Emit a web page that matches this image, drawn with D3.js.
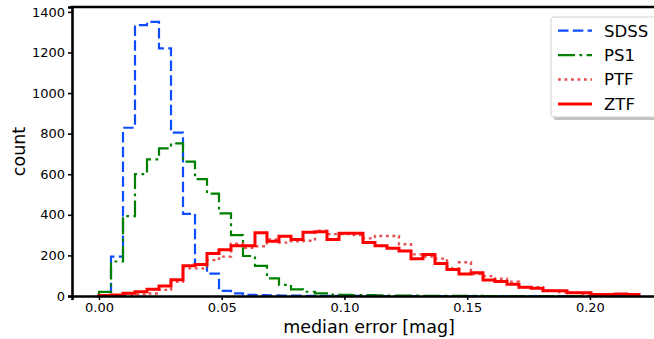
<!DOCTYPE html>
<html>
<head>
<meta charset="utf-8">
<script src="https://cdn.jsdelivr.net/npm/d3@7"></script>
<style>
  body { margin: 0; background: #fff; }
  svg { display: block; font-family: 'DejaVu Sans', sans-serif; }
</style>
</head>
<body>
<div id="root"></div>
<script>
// histogram of median photometric error per survey, 45 bins from 0 to 0.22 mag
const binMin = 0;
const binMax = 0.22;
const nBins = 45;

const sdss = [5, 194, 829, 1335, 1351, 1220, 805, 405, 153, 110,
  25, 13, 6, 4, 3, 2, 2, 1, 1, 1,
  1, 1, 0, 0, 0, 0, 0, 0, 0, 0,
  0, 0, 0, 0, 0, 0, 0, 0, 0, 0,
  0, 0, 0, 0, 0];
const ps1 = [20, 170, 394, 601, 673, 727, 752, 662, 576, 504,
  407, 300, 197, 148, 87, 55, 33, 21, 13, 7,
  6, 5, 4, 3, 2, 2, 2, 1, 1, 1,
  1, 1, 0, 0, 0, 0, 0, 0, 0, 0,
  0, 0, 0, 0, 0];
const ptf = [2, 3, 6, 8, 12, 30, 70, 136, 136, 177,
  194, 258, 238, 245, 279, 263, 270, 272, 322, 305,
  305, 300, 284, 296, 296, 255, 205, 195, 184, 136,
  166, 108, 98, 85, 71, 42, 43, 26, 20, 16,
  10, 8, 6, 5, 3];
const ztf = [2, 5, 13, 21, 33, 49, 80, 149, 155, 210,
  228, 247, 247, 312, 270, 295, 279, 314, 317, 279,
  309, 309, 263, 248, 235, 222, 184, 204, 160, 131,
  108, 115, 79, 71, 58, 43, 38, 26, 26, 16,
  16, 8, 8, 10, 7];

const xTicks = [0, 0.05, 0.1, 0.15, 0.2];
const yTicks = [0, 200, 400, 600, 800, 1000, 1200, 1400];

const series = [
  { name: 'SDSS', counts: sdss, color: '#0d4dff', width: 2.2, dash: '10.5,4.3', opacity: 1 },
  { name: 'PS1', counts: ps1, color: '#008000', width: 2.2, dash: '17,4.4,2.8,4.4', opacity: 1 },
  { name: 'PTF', counts: ptf, color: '#e02020', width: 2.4, dash: '2.8,3.7', opacity: 0.8 },
  { name: 'ZTF', counts: ztf, color: '#ff0000', width: 3, dash: null, opacity: 1 },
];

const width = 654;
const height = 339;
const margin = { top: 7, right: -12, bottom: 43, left: 72 };

const svg = d3.select('#root').append('svg')
  .attr('width', width)
  .attr('height', height);

const x = d3.scaleLinear()
  .domain([-0.011, 0.231])
  .range([margin.left, width - margin.right]);

const y = d3.scaleLinear()
  .domain([0, 1424])
  .range([height - margin.bottom, margin.top]);

const edges = d3.range(nBins + 1).map(i => binMin + i * (binMax - binMin) / nBins);

// outline of a step histogram
const stepPoints = counts => {
  const pts = [[edges[0], 0]];
  counts.forEach((c, i) => {
    pts.push([edges[i], c]);
    pts.push([edges[i + 1], c]);
  });
  pts.push([edges[nBins], 0]);
  return pts;
};

const line = d3.line()
  .x(d => x(d[0]))
  .y(d => y(d[1]));

svg.selectAll('path.hist')
  .data(series)
  .enter()
  .append('path')
  .attr('class', 'hist')
  .attr('d', d => line(stepPoints(d.counts)))
  .attr('fill', 'none')
  .attr('stroke', d => d.color)
  .attr('stroke-width', d => d.width)
  .attr('stroke-dasharray', d => d.dash)
  .attr('stroke-opacity', d => d.opacity)
  .attr('stroke-linejoin', 'miter');

// axes
const xAxis = svg.append('g')
  .attr('transform', `translate(0,${y(0)})`)
  .call(d3.axisBottom(x).tickValues(xTicks).tickFormat(d3.format('.2f')).tickSizeOuter(0).tickSize(4).tickPadding(3));

const yAxis = svg.append('g')
  .attr('transform', `translate(${x.range()[0]},0)`)
  .call(d3.axisLeft(y).tickValues(yTicks).tickFormat(d3.format('d')).tickSizeOuter(0).tickSize(4).tickPadding(3));

[xAxis, yAxis].forEach(g => {
  g.select('.domain').attr('stroke', '#000').attr('stroke-width', 2.6);
  g.selectAll('.tick line').attr('stroke', '#000').attr('stroke-width', 1.6);
  g.selectAll('.tick text')
    .attr('font-family', 'DejaVu Sans')
    .attr('font-size', 13)
    .attr('fill', '#000');
});

// top spine
svg.append('line')
  .attr('x1', x.range()[0] - 1.3)
  .attr('x2', x.range()[1])
  .attr('y1', y.range()[1])
  .attr('y2', y.range()[1])
  .attr('stroke', '#000')
  .attr('stroke-width', 2.6);

svg.append('text')
  .attr('x', (x.range()[0] + x.range()[1]) / 2)
  .attr('y', 333)
  .attr('text-anchor', 'middle')
  .attr('font-size', 17.5)
  .text('median error [mag]');

svg.append('text')
  .attr('transform', `translate(25,${(y.range()[0] + y.range()[1]) / 2}) rotate(-90)`)
  .attr('text-anchor', 'middle')
  .attr('font-size', 17.5)
  .text('count');

// legend
const legend = svg.append('g').attr('transform', 'translate(551,17)');

legend.append('rect')
  .attr('x', 2.5)
  .attr('y', 3)
  .attr('width', 120)
  .attr('height', 100)
  .attr('rx', 3)
  .attr('fill', '#888')
  .attr('fill-opacity', 0.5);

legend.append('rect')
  .attr('x', 0)
  .attr('y', 0)
  .attr('width', 120)
  .attr('height', 100)
  .attr('rx', 3)
  .attr('fill', '#fff')
  .attr('stroke', '#d0d0d0')
  .attr('stroke-width', 1);

const items = legend.selectAll('g.item')
  .data(series)
  .enter()
  .append('g')
  .attr('class', 'item')
  .attr('transform', (d, i) => `translate(0,${13.7 + i * 24.4})`);

items.append('line')
  .attr('x1', 7)
  .attr('x2', 41)
  .attr('stroke', d => d.color)
  .attr('stroke-width', d => d.width)
  .attr('stroke-dasharray', d => d.dash)
  .attr('stroke-opacity', d => d.opacity);

items.append('text')
  .attr('x', 53)
  .attr('dy', '0.36em')
  .attr('font-size', 16.5)
  .text(d => d.name);
</script>
</body>
</html>
